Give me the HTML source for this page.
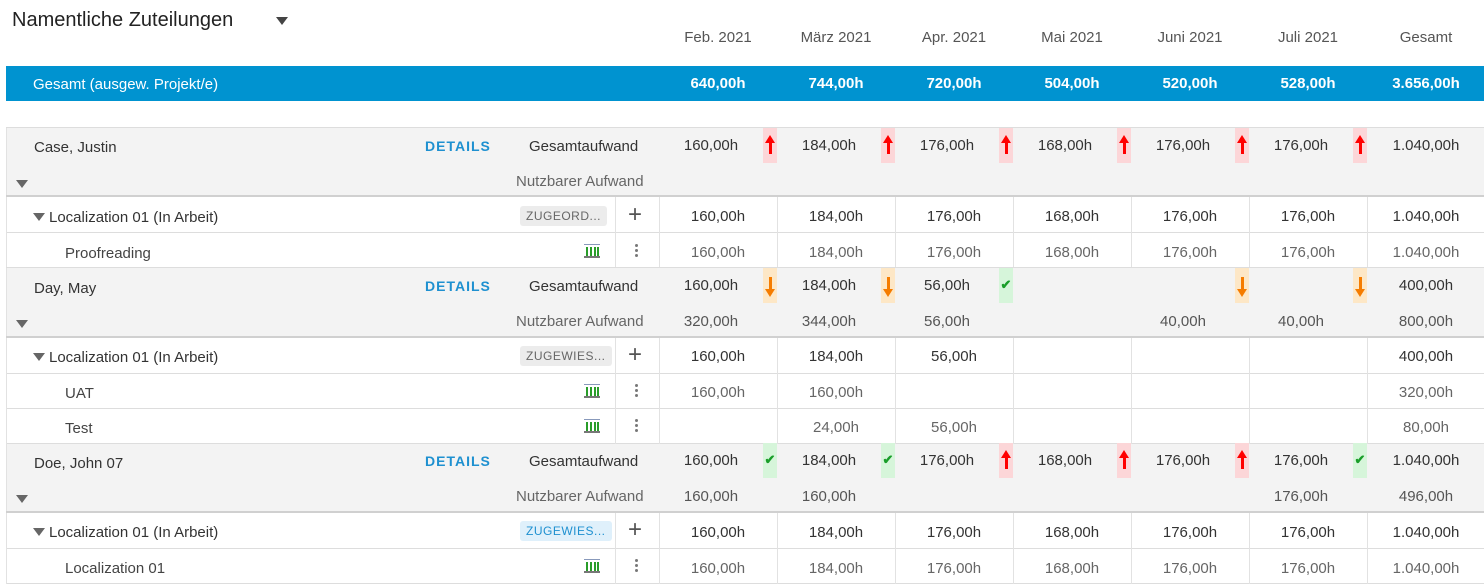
<!DOCTYPE html>
<html><head><meta charset="utf-8"><style>
*{margin:0;padding:0;box-sizing:border-box}
body{width:1484px;height:584px;overflow:hidden;background:#fff;font-family:"Liberation Sans",sans-serif;color:#333;position:relative}
div,span{position:absolute}
.t{white-space:nowrap}
.g{background:#f3f3f3;left:6px;width:1478px;border-left:1px solid #e2e2e2}
.hl{height:1px;background:#ddd;left:6px;width:1478px}
.hd{height:2px;background:#d0d0d0;left:6px;width:1478px}
.vl{width:1px;background:#e2e2e2}
.c{width:104px;text-align:center;font-size:15px;line-height:35px;color:#333}
.s{width:118px;text-align:center;font-size:15px;line-height:35px;color:#333}
.s2{width:118px;text-align:center;font-size:15px;line-height:35px;color:#666}
.n{width:104px;text-align:center;font-size:15px;line-height:35px;color:#555}
.mh{width:118px;text-align:center;font-size:15px;color:#555;top:29px}
.bv{width:118px;text-align:center;font-size:15px;color:#fff;font-weight:bold;top:75px}
.b{width:14px;height:35px;top:0;text-align:center;font-size:18px;line-height:33px;font-weight:bold}
.r{background:#fcd6d8}
.o{background:#fde7c6}
.r::before,.o::before{content:"";position:absolute;left:6px;width:3px;height:13px;top:13px}
.r::after,.o::after{content:"";position:absolute;left:2px;width:0;height:0;border-left:5.5px solid transparent;border-right:5.5px solid transparent}
.r::before{background:#f00}
.r::after{top:7px;border-bottom:8px solid #f00}
.o::before{background:#f57c00;top:9px}
.o::after{top:21px;border-top:8px solid #f57c00}
.k{background:#d6f5da;color:#1a9e2a;font-size:13px}
.lbl{font-size:15px;color:#333}
.det{font-size:14px;color:#1e90d0;font-weight:bold;letter-spacing:1px}
.tri{width:0;height:0;border-left:6px solid transparent;border-right:6px solid transparent;border-top:8px solid #666}
.tag{height:20px;font-size:12px;line-height:20px;padding:0 6px;border-radius:3px;background:#ececec;color:#666;letter-spacing:.5px}
.tagb{background:#dff0fb;color:#1e90d0}
.plus{font-size:24px;color:#555;line-height:20px}
.dots{width:3px}
.dots i{position:absolute;left:0;width:3px;height:3px;border-radius:50%;background:#777}
.bar{width:16px;height:14px;border-bottom:2px solid #777;border-top:1px solid #8899bb}
.bar i{position:absolute;bottom:0;width:2px;background:#2a9d2a}
</style></head><body>

<div class="t" style="left:12px;top:9px;font-size:20px;color:#222">Namentliche Zuteilungen</div>
<div class="tri" style="left:276px;top:17px;border-top-color:#444"></div>

<div class="mh t" style="left:659px">Feb. 2021</div>
<div class="mh t" style="left:777px">März 2021</div>
<div class="mh t" style="left:895px">Apr. 2021</div>
<div class="mh t" style="left:1013px">Mai 2021</div>
<div class="mh t" style="left:1131px">Juni 2021</div>
<div class="mh t" style="left:1249px">Juli 2021</div>
<div class="mh t" style="left:1367px">Gesamt</div>

<div style="left:6px;top:66px;width:1478px;height:35px;background:#0093d0"></div>
<div class="t" style="left:33px;top:76px;font-size:15px;color:#fff">Gesamt (ausgew. Projekt/e)</div>
<div class="bv t" style="left:659px">640,00h</div>
<div class="bv t" style="left:777px">744,00h</div>
<div class="bv t" style="left:895px">720,00h</div>
<div class="bv t" style="left:1013px">504,00h</div>
<div class="bv t" style="left:1131px">520,00h</div>
<div class="bv t" style="left:1249px">528,00h</div>
<div class="bv t" style="left:1367px">3.656,00h</div>

<!-- Person 1 -->
<div class="g" style="top:127px;height:70px"></div>
<div class="hl" style="top:127px"></div>
<div class="hd" style="top:195px"></div>
<div class="t lbl" style="left:34px;top:139px">Case, Justin</div>
<div class="t det" style="left:425px;top:138px">DETAILS</div>
<div class="t lbl" style="left:529px;top:138px">Gesamtaufwand</div>
<div class="t" style="left:516px;top:173px;font-size:15px;color:#666">Nutzbarer Aufwand</div>
<div class="tri" style="left:16px;top:180px"></div>
<div style="left:0;top:128px;width:1484px;height:35px">
<div class="c t" style="left:659px">160,00h</div><div class="b r" style="left:763px"></div>
<div class="c t" style="left:777px">184,00h</div><div class="b r" style="left:881px"></div>
<div class="c t" style="left:895px">176,00h</div><div class="b r" style="left:999px"></div>
<div class="c t" style="left:1013px">168,00h</div><div class="b r" style="left:1117px"></div>
<div class="c t" style="left:1131px">176,00h</div><div class="b r" style="left:1235px"></div>
<div class="c t" style="left:1249px">176,00h</div><div class="b r" style="left:1353px"></div>
<div class="s t" style="left:1367px">1.040,00h</div>
</div>

<!-- sub rows 1 -->
<div class="hl" style="top:232px"></div>
<div class="hl" style="top:267px"></div>
<div class="tri" style="left:33px;top:213px"></div>
<div class="t lbl" style="left:49px;top:209px">Localization 01 (In Arbeit)</div>
<div class="tag t" style="left:520px;top:206px">ZUGEORD...</div>
<div class="plus t" style="left:628px;top:205px">+</div>
<div class="t" style="left:65px;top:245px;font-size:15px;color:#444">Proofreading</div>
<div class="bar" style="left:584px;top:244px"><i style="left:2px;height:9px"></i><i style="left:6px;height:9px"></i><i style="left:10px;height:9px"></i><i style="left:13px;height:9px"></i></div>
<div class="dots" style="left:635px;top:244px"><i style="top:0"></i><i style="top:5px"></i><i style="top:10px"></i></div>
<div style="left:0;top:199px;width:1484px;height:35px">
<div class="s t" style="left:659px">160,00h</div><div class="s t" style="left:777px">184,00h</div><div class="s t" style="left:895px">176,00h</div><div class="s t" style="left:1013px">168,00h</div><div class="s t" style="left:1131px">176,00h</div><div class="s t" style="left:1249px">176,00h</div><div class="s t" style="left:1367px">1.040,00h</div>
</div>
<div style="left:0;top:235px;width:1484px;height:35px">
<div class="s2 t" style="left:659px">160,00h</div><div class="s2 t" style="left:777px">184,00h</div><div class="s2 t" style="left:895px">176,00h</div><div class="s2 t" style="left:1013px">168,00h</div><div class="s2 t" style="left:1131px">176,00h</div><div class="s2 t" style="left:1249px">176,00h</div><div class="s2 t" style="left:1367px">1.040,00h</div>
</div>
<div class="vl" style="left:615px;top:197px;height:70px"></div>
<div class="vl" style="left:659px;top:197px;height:70px"></div>
<div class="vl" style="left:777px;top:197px;height:70px"></div>
<div class="vl" style="left:895px;top:197px;height:70px"></div>
<div class="vl" style="left:1013px;top:197px;height:70px"></div>
<div class="vl" style="left:1131px;top:197px;height:70px"></div>
<div class="vl" style="left:1249px;top:197px;height:70px"></div>
<div class="vl" style="left:1367px;top:197px;height:70px"></div>
<div class="vl" style="left:6px;top:197px;height:70px"></div>

<!-- Person 2 -->
<div class="g" style="top:268px;height:70px"></div>
<div class="hd" style="top:336px"></div>
<div class="t lbl" style="left:34px;top:280px">Day, May</div>
<div class="t det" style="left:425px;top:278px">DETAILS</div>
<div class="t lbl" style="left:529px;top:278px">Gesamtaufwand</div>
<div class="t" style="left:516px;top:313px;font-size:15px;color:#666">Nutzbarer Aufwand</div>
<div class="tri" style="left:16px;top:320px"></div>
<div style="left:0;top:268px;width:1484px;height:35px">
<div class="c t" style="left:659px">160,00h</div><div class="b o" style="left:763px"></div>
<div class="c t" style="left:777px">184,00h</div><div class="b o" style="left:881px"></div>
<div class="c t" style="left:895px">56,00h</div><div class="b k" style="left:999px">✔</div>
<div class="b o" style="left:1235px"></div>
<div class="b o" style="left:1353px"></div>
<div class="s t" style="left:1367px">400,00h</div>
</div>
<div style="left:0;top:304px;width:1484px;height:35px">
<div class="n t" style="left:659px">320,00h</div><div class="n t" style="left:777px">344,00h</div><div class="n t" style="left:895px">56,00h</div><div class="n t" style="left:1131px">40,00h</div><div class="n t" style="left:1249px">40,00h</div><div class="s t" style="left:1367px;color:#555">800,00h</div>
</div>

<!-- sub rows 2 -->
<div class="hl" style="top:373px"></div>
<div class="hl" style="top:408px"></div>
<div class="hl" style="top:443px"></div>
<div class="tri" style="left:33px;top:353px"></div>
<div class="t lbl" style="left:49px;top:349px">Localization 01 (In Arbeit)</div>
<div class="tag t" style="left:520px;top:346px">ZUGEWIES...</div>
<div class="plus t" style="left:628px;top:345px">+</div>
<div class="t" style="left:65px;top:385px;font-size:15px;color:#444">UAT</div>
<div class="t" style="left:65px;top:420px;font-size:15px;color:#444">Test</div>
<div class="bar" style="left:584px;top:384px"><i style="left:2px;height:9px"></i><i style="left:6px;height:9px"></i><i style="left:10px;height:9px"></i><i style="left:13px;height:9px"></i></div>
<div class="bar" style="left:584px;top:419px"><i style="left:2px;height:9px"></i><i style="left:6px;height:9px"></i><i style="left:10px;height:9px"></i><i style="left:13px;height:9px"></i></div>
<div class="dots" style="left:635px;top:384px"><i style="top:0"></i><i style="top:5px"></i><i style="top:10px"></i></div>
<div class="dots" style="left:635px;top:419px"><i style="top:0"></i><i style="top:5px"></i><i style="top:10px"></i></div>
<div style="left:0;top:339px;width:1484px;height:35px">
<div class="s t" style="left:659px">160,00h</div><div class="s t" style="left:777px">184,00h</div><div class="s t" style="left:895px">56,00h</div><div class="s t" style="left:1367px">400,00h</div>
</div>
<div style="left:0;top:375px;width:1484px;height:35px">
<div class="s2 t" style="left:659px">160,00h</div><div class="s2 t" style="left:777px">160,00h</div><div class="s2 t" style="left:1367px">320,00h</div>
</div>
<div style="left:0;top:410px;width:1484px;height:35px">
<div class="s2 t" style="left:777px">24,00h</div><div class="s2 t" style="left:895px">56,00h</div><div class="s2 t" style="left:1367px">80,00h</div>
</div>
<div class="vl" style="left:615px;top:338px;height:106px"></div>
<div class="vl" style="left:659px;top:338px;height:106px"></div>
<div class="vl" style="left:777px;top:338px;height:106px"></div>
<div class="vl" style="left:895px;top:338px;height:106px"></div>
<div class="vl" style="left:1013px;top:338px;height:106px"></div>
<div class="vl" style="left:1131px;top:338px;height:106px"></div>
<div class="vl" style="left:1249px;top:338px;height:106px"></div>
<div class="vl" style="left:1367px;top:338px;height:106px"></div>
<div class="vl" style="left:6px;top:338px;height:106px"></div>

<!-- Person 3 -->
<div class="g" style="top:444px;height:69px"></div>
<div class="hd" style="top:511px"></div>
<div class="t lbl" style="left:34px;top:455px">Doe, John 07</div>
<div class="t det" style="left:425px;top:453px">DETAILS</div>
<div class="t lbl" style="left:529px;top:453px">Gesamtaufwand</div>
<div class="t" style="left:516px;top:488px;font-size:15px;color:#666">Nutzbarer Aufwand</div>
<div class="tri" style="left:16px;top:495px"></div>
<div style="left:0;top:443px;width:1484px;height:35px">
<div class="c t" style="left:659px">160,00h</div><div class="b k" style="left:763px">✔</div>
<div class="c t" style="left:777px">184,00h</div><div class="b k" style="left:881px">✔</div>
<div class="c t" style="left:895px">176,00h</div><div class="b r" style="left:999px"></div>
<div class="c t" style="left:1013px">168,00h</div><div class="b r" style="left:1117px"></div>
<div class="c t" style="left:1131px">176,00h</div><div class="b r" style="left:1235px"></div>
<div class="c t" style="left:1249px">176,00h</div><div class="b k" style="left:1353px">✔</div>
<div class="s t" style="left:1367px">1.040,00h</div>
</div>
<div style="left:0;top:479px;width:1484px;height:35px">
<div class="n t" style="left:659px">160,00h</div><div class="n t" style="left:777px">160,00h</div><div class="n t" style="left:1249px">176,00h</div><div class="s t" style="left:1367px;color:#555">496,00h</div>
</div>

<!-- sub rows 3 -->
<div class="hl" style="top:548px"></div>
<div class="hl" style="top:583px"></div>
<div class="tri" style="left:33px;top:528px"></div>
<div class="t lbl" style="left:49px;top:524px">Localization 01 (In Arbeit)</div>
<div class="tag tagb t" style="left:520px;top:521px">ZUGEWIES...</div>
<div class="plus t" style="left:628px;top:520px">+</div>
<div class="t" style="left:65px;top:560px;font-size:15px;color:#444">Localization 01</div>
<div class="bar" style="left:584px;top:559px"><i style="left:2px;height:9px"></i><i style="left:6px;height:9px"></i><i style="left:10px;height:9px"></i><i style="left:13px;height:9px"></i></div>
<div class="dots" style="left:635px;top:559px"><i style="top:0"></i><i style="top:5px"></i><i style="top:10px"></i></div>
<div style="left:0;top:515px;width:1484px;height:35px">
<div class="s t" style="left:659px">160,00h</div><div class="s t" style="left:777px">184,00h</div><div class="s t" style="left:895px">176,00h</div><div class="s t" style="left:1013px">168,00h</div><div class="s t" style="left:1131px">176,00h</div><div class="s t" style="left:1249px">176,00h</div><div class="s t" style="left:1367px">1.040,00h</div>
</div>
<div style="left:0;top:551px;width:1484px;height:35px">
<div class="s2 t" style="left:659px">160,00h</div><div class="s2 t" style="left:777px">184,00h</div><div class="s2 t" style="left:895px">176,00h</div><div class="s2 t" style="left:1013px">168,00h</div><div class="s2 t" style="left:1131px">176,00h</div><div class="s2 t" style="left:1249px">176,00h</div><div class="s2 t" style="left:1367px">1.040,00h</div>
</div>
<div class="vl" style="left:615px;top:513px;height:71px"></div>
<div class="vl" style="left:659px;top:513px;height:71px"></div>
<div class="vl" style="left:777px;top:513px;height:71px"></div>
<div class="vl" style="left:895px;top:513px;height:71px"></div>
<div class="vl" style="left:1013px;top:513px;height:71px"></div>
<div class="vl" style="left:1131px;top:513px;height:71px"></div>
<div class="vl" style="left:1249px;top:513px;height:71px"></div>
<div class="vl" style="left:1367px;top:513px;height:71px"></div>
<div class="vl" style="left:6px;top:513px;height:71px"></div>
</body></html>
